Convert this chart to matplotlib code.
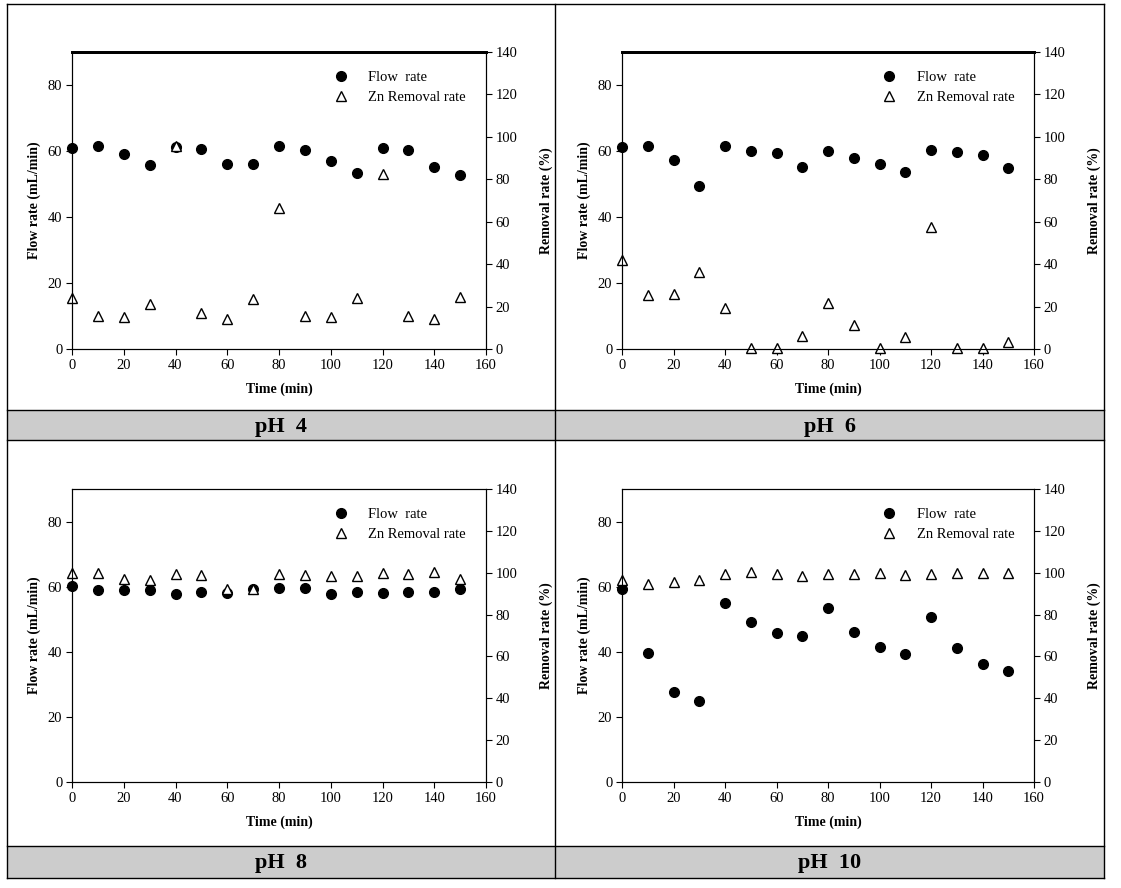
import numpy as np
import matplotlib
matplotlib.use("Agg")
import matplotlib.pyplot as plt
from matplotlib.lines import Line2D
from matplotlib.patches import Rectangle

plt.rcParams['font.family'] = ['Liberation Serif', 'DejaVu Serif']

# time (min)
time = [0, 10, 20, 30, 40, 50, 60, 70, 80, 90, 100, 110, 120, 130, 140, 150]

# flow rate (mL/min) and Zn removal rate (%) for each pH
flow_ph4 = [60.8, 61.4, 59.0, 55.8, 61.2, 60.6, 56.2, 56.2, 61.6, 60.2, 57.1, 53.2, 60.8, 60.2, 55.2, 52.7]
zn_ph4 = [24.2, 15.4, 15.1, 21.4, 95.6, 16.8, 14.0, 23.8, 66.4, 15.4, 15.1, 24.2, 82.4, 15.7, 14.0, 24.7]

flow_ph6 = [61.1, 61.4, 57.2, 49.4, 61.4, 60.1, 59.4, 55.2, 60.1, 57.8, 56.1, 53.5, 60.2, 59.7, 58.7, 54.9]
zn_ph6 = [41.8, 25.3, 26.1, 36.2, 19.2, 0.3, 0.3, 6.0, 21.7, 11.5, 0.3, 5.5, 57.4, 0.3, 0.3, 3.1]

flow_ph8 = [60.3, 58.9, 58.9, 58.9, 57.7, 58.5, 58.1, 59.4, 59.6, 59.7, 57.7, 58.3, 58.2, 58.5, 58.5, 59.3]
zn_ph8 = [99.9, 99.9, 97.1, 96.7, 99.3, 99.0, 92.2, 92.2, 99.6, 99.0, 98.6, 98.2, 99.9, 99.3, 100.5, 97.1]

flow_ph10 = [59.4, 39.7, 27.7, 25.0, 54.9, 49.1, 45.9, 45.0, 53.4, 46.0, 41.6, 39.3, 50.7, 41.1, 36.3, 34.1]
zn_ph10 = [96.4, 94.7, 95.5, 96.7, 99.6, 100.5, 99.4, 98.5, 99.4, 99.6, 99.9, 99.1, 99.6, 99.9, 99.9, 99.9]

ph_labels = ['pH  4', 'pH  6', 'pH  8', 'pH  10']

W, H = 1121, 888
fig = plt.figure(figsize=(W / 100, H / 100), dpi=100)


def px(x0, y0):
    return x0 / W, 1 - y0 / H


# table-like frame with grey label bars
grey = '#cccccc'
for (x0, y0, x1, y1) in [(7, 410, 555, 440), (555, 410, 1104, 440),
                         (7, 846, 555, 878), (555, 846, 1104, 878)]:
    fig.patches.append(Rectangle(px(x0, y1), (x1 - x0) / W, (y1 - y0) / H,
                                 transform=fig.transFigure, facecolor=grey,
                                 edgecolor='none', zorder=0))
lines = [((7, 1104), (4, 4)), ((7, 1104), (878, 878)), ((7, 7), (4, 878)),
         ((1104, 1104), (4, 878)), ((555, 555), (4, 878)),
         ((7, 1104), (410, 410)), ((7, 1104), (440, 440)), ((7, 1104), (846, 846))]
for xs, ys in lines:
    fig.add_artist(Line2D([x / W for x in xs], [1 - y / H for y in ys],
                          transform=fig.transFigure, color='black', lw=1.0))

# label bar text
for lab, (cx, cy) in zip(ph_labels, [(281, 427), (830, 427), (281, 863), (830, 863)]):
    fig.text(*px(cx, cy), lab, ha='center', va='center', fontsize=16, fontweight='bold')

boxes = [(72, 486, 52, 349), (622, 1034, 52, 349),
         (72, 486, 489, 782), (622, 1034, 489, 782)]
flows = [flow_ph4, flow_ph6, flow_ph8, flow_ph10]
zns = [zn_ph4, zn_ph6, zn_ph8, zn_ph10]

for i, ((l, r, t, b), fl, zn) in enumerate(zip(boxes, flows, zns)):
    ax = fig.add_axes([l / W, 1 - b / H, (r - l) / W, (b - t) / H])
    ax2 = ax.twinx()
    ax.plot(time, fl, 'o', color='black', ms=7, label='Flow  rate', zorder=3,
            clip_on=False)
    ax2.plot(time, zn, '^', mfc='white', mec='black', mew=1.0, ms=6.5,
             label='Zn Removal rate', zorder=2, clip_on=False)
    ax.set_xlim(0, 160)
    ax.set_ylim(0, 90)
    ax2.set_ylim(0, 140)
    ax.set_xticks(range(0, 161, 20))
    ax.set_yticks(range(0, 81, 20))
    ax2.set_yticks(range(0, 141, 20))
    ax.patch.set_visible(False)
    for a in (ax, ax2):
        a.tick_params(direction='out', length=4, width=0.8, labelsize=10.5, pad=3)
        for s in a.spines.values():
            s.set_linewidth(0.8)
        a.spines['top'].set_linewidth(2.0 if i < 2 else 0.8)
    ax.set_xlabel('Time (min)', fontsize=10, fontweight='bold', labelpad=8)
    ax.set_ylabel('Flow rate (mL/min)', fontsize=10, fontweight='bold', labelpad=5)
    ax2.set_ylabel('Removal rate (%)', fontsize=10, fontweight='bold', labelpad=16)
    h1, l1 = ax.get_legend_handles_labels()
    h2, l2 = ax2.get_legend_handles_labels()
    ax2.legend(h1 + h2, l1 + l2, loc='upper left', bbox_to_anchor=(0.61, 0.962),
               frameon=False, fontsize=10.5, handlelength=1.2, handletextpad=1.3,
               labelspacing=0.5, borderpad=0)

fig.savefig('out.png', dpi=100)
